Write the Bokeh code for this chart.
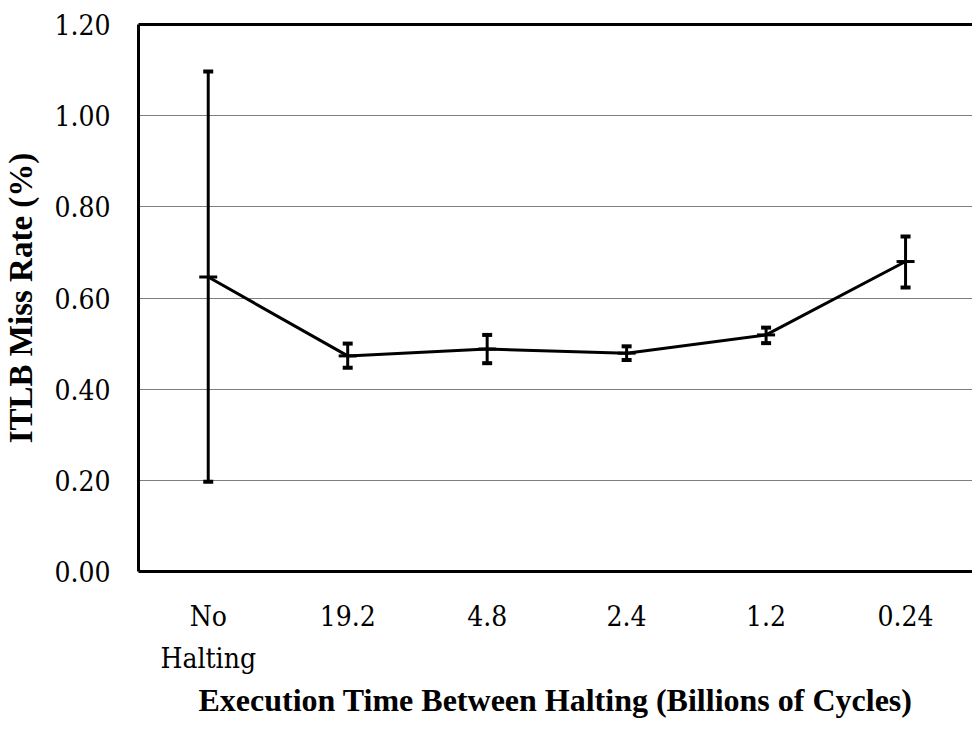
from bokeh.plotting import figure
from bokeh.models import (ColumnDataSource, Whisker, FixedTicker, LinearAxis,
                          NumeralTickFormatter, Range1d, TeeHead)
from bokeh.embed import file_html
from bokeh.resources import INLINE

categories = ["No\nHalting", "19.2", "4.8", "2.4", "1.2", "0.24"]
miss_rate = [0.646, 0.473, 0.488, 0.479, 0.519, 0.680]
upper = [1.097, 0.500, 0.519, 0.494, 0.535, 0.735]
lower = [0.197, 0.447, 0.457, 0.464, 0.501, 0.623]
y_ticks = [0.0, 0.2, 0.4, 0.6, 0.8, 1.0, 1.2]

xpos = [i + 0.5 for i in range(len(categories))]
src = ColumnDataSource(dict(x=xpos, y=miss_rate, upper=upper, lower=lower))

TICK_FONT = "DejaVu Serif Condensed"
LABEL_FONT = "Liberation Serif"

p = figure(width=972, height=721, output_backend="svg", toolbar_location=None,
           x_range=Range1d(0, 5.98), y_range=Range1d(0, 1.2),
           min_border_left=127, min_border_right=0, min_border_top=24,
           min_border_bottom=0)
p.outline_line_color = None
p.background_fill_color = "white"
p.border_fill_color = "white"

# grid
p.xgrid.grid_line_color = None
p.ygrid.ticker = FixedTicker(ticks=[0.2, 0.4, 0.6, 0.8, 1.0])
p.ygrid.grid_line_color = "#7f7f7f"
p.ygrid.grid_line_width = 1

# y axis
ya = p.yaxis[0]
ya.ticker = FixedTicker(ticks=y_ticks)
ya.formatter = NumeralTickFormatter(format="0.00")
ya.axis_label = "ITLB Miss Rate (%)"
ya.axis_label_text_font = LABEL_FONT
ya.axis_label_text_font_style = "bold"
ya.axis_label_text_font_size = "33px"
ya.axis_label_text_color = "black"
ya.axis_label_standoff = 12
ya.major_label_text_font = TICK_FONT
ya.major_label_text_font_size = "28px"
ya.major_label_text_color = "black"
ya.major_label_standoff = 22
ya.major_tick_line_color = None
ya.minor_tick_line_color = None
ya.axis_line_width = 3
ya.axis_line_color = "black"

# x axis
xa = p.xaxis[0]
xa.ticker = FixedTicker(ticks=xpos)
xa.major_label_overrides = {x: c for x, c in zip(xpos, categories)}
xa.axis_label = "Execution Time Between Halting (Billions of Cycles)"
xa.axis_label_text_font = LABEL_FONT
xa.axis_label_text_font_style = "bold"
xa.axis_label_text_font_size = "32px"
xa.axis_label_text_color = "black"
xa.axis_label_standoff = 4
xa.major_label_text_font = TICK_FONT
xa.major_label_text_font_size = "28px"
xa.major_label_text_line_height = 1.3
xa.major_label_text_color = "black"
xa.major_label_standoff = 22
xa.major_tick_line_color = None
xa.minor_tick_line_color = None
xa.axis_line_width = 3
xa.axis_line_color = "black"

# top border
top = LinearAxis(major_tick_line_color=None, minor_tick_line_color=None,
                 major_label_text_font_size="0px", axis_line_width=3,
                 axis_line_color="black", ticker=FixedTicker(ticks=[]))
p.add_layout(top, "above")

p.line("x", "y", source=src, line_color="black", line_width=3)
p.add_layout(Whisker(source=src, base="x", upper="upper", lower="lower",
                     line_color="black", line_width=3,
                     upper_head=TeeHead(size=10, line_width=4, line_color="black"),
                     lower_head=TeeHead(size=10, line_width=4, line_color="black")))
p.scatter("x", "y", source=src, marker="dash", size=18, line_color="black",
          line_width=3)

open("out.html", "w").write(file_html(p, INLINE))
